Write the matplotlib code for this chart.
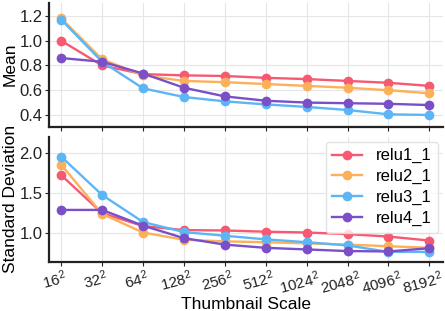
import matplotlib
matplotlib.use('Agg')
import matplotlib.pyplot as plt
import matplotlib.transforms as mtransforms

# Data
scales = ['$16^2$', '$32^2$', '$64^2$', '$128^2$', '$256^2$', '$512^2$',
          '$1024^2$', '$2048^2$', '$4096^2$', '$8192^2$']
layers = ['relu1_1', 'relu2_1', 'relu3_1', 'relu4_1']
colors = ['#f65a72', '#fdb05a', '#5cb6f6', '#7a4fc8']

mean_relu1 = [1.00, 0.80, 0.73, 0.72, 0.715, 0.70, 0.69, 0.675, 0.66, 0.635]
mean_relu2 = [1.18, 0.85, 0.72, 0.675, 0.665, 0.65, 0.635, 0.62, 0.60, 0.575]
mean_relu3 = [1.17, 0.83, 0.615, 0.545, 0.51, 0.485, 0.465, 0.44, 0.405, 0.40]
mean_relu4 = [0.86, 0.83, 0.735, 0.62, 0.55, 0.515, 0.50, 0.495, 0.49, 0.48]

std_relu1 = [1.72, 1.25, 1.09, 1.04, 1.035, 1.02, 1.01, 0.99, 0.96, 0.91]
std_relu2 = [1.85, 1.24, 1.01, 0.92, 0.90, 0.89, 0.875, 0.86, 0.84, 0.82]
std_relu3 = [1.95, 1.475, 1.14, 1.015, 0.97, 0.925, 0.89, 0.85, 0.77, 0.77]
std_relu4 = [1.29, 1.29, 1.095, 0.94, 0.86, 0.82, 0.80, 0.78, 0.775, 0.815]

means = [mean_relu1, mean_relu2, mean_relu3, mean_relu4]
stds = [std_relu1, std_relu2, std_relu3, std_relu4]

plt.rcParams['font.family'] = ['Liberation Sans', 'DejaVu Sans']
plt.rcParams['mathtext.fontset'] = 'custom'
plt.rcParams['mathtext.rm'] = 'Liberation Sans'
plt.rcParams['mathtext.it'] = 'Liberation Sans'

fig = plt.figure(figsize=(4.45, 3.11), dpi=100)
ax1 = fig.add_axes([0.111, 0.5926, 0.885, 0.3987])
ax2 = fig.add_axes([0.111, 0.1585, 0.885, 0.402])

x = list(range(len(scales)))
for ax, series in [(ax1, means), (ax2, stds)]:
    for name, ys, c in zip(layers, series, colors):
        ax.plot(x, ys, '-o', color=c, lw=1.7, ms=6, label=name)
    ax.set_xlim(-0.29, 9.34)
    ax.set_xticks(x)
    ax.grid(True, color='#e6e6e6', lw=0.8)
    ax.set_axisbelow(True)
    for s in ['top', 'right']:
        ax.spines[s].set_visible(False)
    for s in ['left', 'bottom']:
        ax.spines[s].set_linewidth(1.6)
        ax.spines[s].set_color('#222222')
    ax.tick_params(axis='y', labelsize=12, colors='#222222', length=3,
                   width=0.8, pad=2)
    ax.tick_params(axis='x', labelsize=11, colors='#222222', length=3,
                   width=0.8, pad=1.5)

ax1.set_ylim(0.305, 1.3075)
ax1.set_yticks([0.4, 0.6, 0.8, 1.0, 1.2])
ax1.set_xticklabels([])
ax1.set_ylabel('Mean', fontsize=12.5)

ax2.set_ylim(0.648, 2.198)
ax2.set_yticks([1.0, 1.5, 2.0])
ax2.set_xticklabels(scales, rotation=15)
# nudge tick labels a little to the left, as in the reference
shift = mtransforms.ScaledTranslation(-7 / 100, 0, fig.dpi_scale_trans)
for lbl in ax2.get_xticklabels():
    lbl.set_transform(lbl.get_transform() + shift)
ax2.set_ylabel('Standard Deviation', fontsize=12.5)
ax2.set_xlabel('Thumbnail Scale', fontsize=12.5, labelpad=0)
ax2.legend(loc='upper right', fontsize=12, frameon=True, edgecolor='#dddddd',
           handlelength=1.8, borderpad=0.4, labelspacing=0.35,
           borderaxespad=0.3)

ax1.yaxis.set_label_coords(-0.08, 0.5)
ax2.yaxis.set_label_coords(-0.08, 0.5)

fig.savefig('out.png', dpi=100)
